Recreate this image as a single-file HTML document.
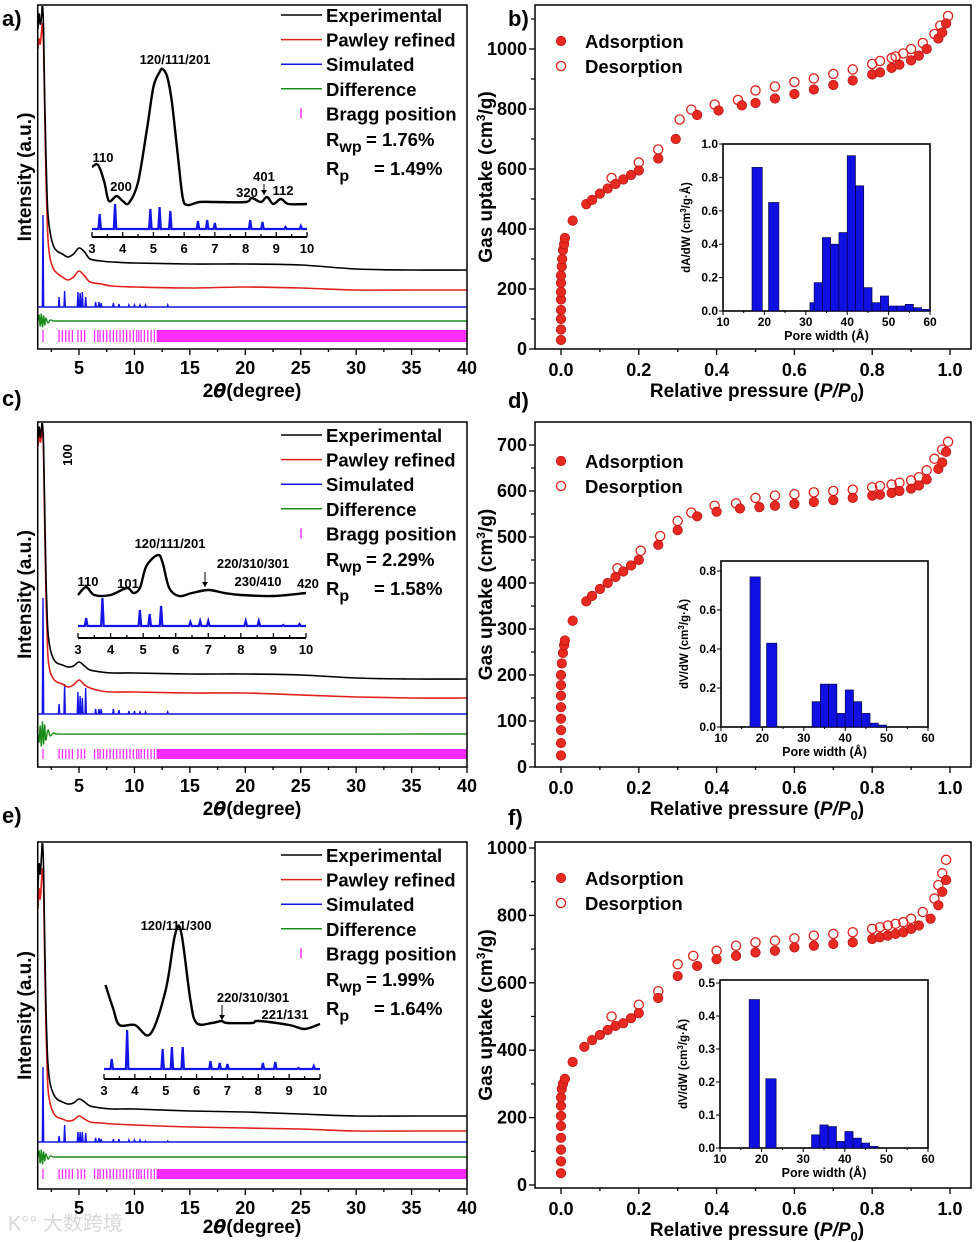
<!DOCTYPE html>
<html><head><meta charset="utf-8">
<style>
html,body{margin:0;padding:0;background:#fff;}
svg{display:block;font-family:"Liberation Sans","Noto Sans CJK SC",sans-serif;font-weight:bold;}
</style></head>
<body>
<svg id="fig" width="976" height="1242" viewBox="0 0 976 1242" xmlns="http://www.w3.org/2000/svg"><defs id="defs"></defs></svg>
<script>
// ---------- DATA ----------
const xrdX = [1.3,1.4,1.5,1.6,1.7,1.8,1.9,2.0,2.1,2.2,2.4,2.7,3,3.5,4,4.5,5,5.5,6,7,8,10,15,20,25,30,35,40];
const expA = [320,335,325,330,344,320,250,200,160,135,116,103,98,95,92,95,101,97,90,88,87,86,85,85,84,80,79,79];
const pawA = [300,310,305,315,325,300,240,180,140,110,90,80,76,72,69,72,78,73,67,65,63,62,61,62,61,59,59,59];
const expC = [330,340,330,338,344,320,260,200,160,135,118,108,104,102,100,101,105,101,97,95,94,94,93,93,92,89,88,88];
const pawC = [320,335,325,330,340,310,240,180,140,110,95,88,85,83,80,82,87,82,79,76,75,75,74,74,72,70,69,69];
const expE = [300,325,315,330,347,320,250,190,150,125,105,95,90,87,85,86,90,87,83,81,80,80,78,77,75,73,73,73];
const pawE = [280,300,290,305,320,300,230,170,130,100,85,76,72,70,68,69,73,70,67,66,65,64,62,61,60,58,58,58];
const simPos = [1.75,3.2,3.7,4.9,5.1,5.3,5.6,6.5,6.8,7.0,8.1,8.6,9.5,10,10.5,11,13];
const simA = [92,10,16,15,14,15,10,5,5,4,4,3,2,2,2,2,2];
const simC = [116,10,30,22,18,16,26,5,5,5,5,4,3,3,2,2,2];
const simE = [75,6,17,10,10,10,9,4,4,3,3,3,2,2,2,1,1];
const diffX = [1.3,1.4,1.5,1.6,1.7,1.8,1.9,2.0,2.2,2.4,2.7,3,40];
const diffA = [0,6,-5,7,-6,5,-4,3,-2,1,0,0,0];
const diffC = [0,-8,8,-12,12,-10,9,-6,4,-2,1,0,0];
const diffE = [0,6,-6,7,-7,5,-4,3,-2,1,0,0,0];
const braggPos = [1.75,3.2,3.5,3.8,4.1,4.4,4.9,5.2,5.5,6.4,6.7,6.9,7.2,7.5,7.8,8.1,8.4,8.7,9.0,9.3,9.6,9.9,10.2,10.4,10.6,10.9,11.2,11.5,11.8];
// insets
const insAX = [3.0,3.2,3.4,3.55,3.8,4.0,4.2,4.5,4.8,5.0,5.2,5.3,5.45,5.6,5.8,5.95,6.1,6.5,7,8,8.2,8.5,8.7,8.9,9.15,9.4,10];
const insAY = [70,72,55,36,41,36,34,55,110,150,165,168,160,135,80,40,32,35,35,35,39,35,40,33,38,33,33];
const insCX = [3.0,3.25,3.5,4.0,4.5,4.7,4.9,5.1,5.45,5.6,5.8,6.1,6.5,7.0,7.5,8,9,10];
const insCY = [43,51,43,43,50,45,50,72,83,75,50,42,45,48,45,43,42,45];
const insEX = [3.05,3.3,3.5,4.0,4.5,5.0,5.3,5.5,5.8,6.0,6.5,6.8,7.0,7.8,8,9,9.5,10];
const insEY = [94,70,54,54,45,89,144,147,79,56,56,58,56,56,58,54,50,55];
const insSimPos = [3.25,3.75,4.9,5.2,5.55,6.45,6.75,7.0,8.15,8.55,9.3,9.8];
const insSimA = [15,25,20,22,18,8,9,6,9,7,2,3];
const insSimC = [8,28,16,12,20,4,5,5,5,5,1,2];
const insSimE = [10,39,20,22,22,8,6,5,6,7,1,3];
// isotherms
const adsBX = [0,0,0,0,0,0,0,0,0.002,0.003,0.005,0.008,0.01,0.03,0.065,0.08,0.1,0.12,0.14,0.16,0.18,0.2,0.25,0.295,0.35,0.405,0.465,0.5,0.55,0.6,0.65,0.7,0.75,0.8,0.82,0.85,0.87,0.9,0.92,0.94,0.97,0.98,0.99];
const adsBY = [30,65,100,130,165,190,220,245,275,300,330,350,370,428,483,497,518,535,550,565,580,595,635,700,780,795,812,820,835,850,865,880,895,915,922,937,948,962,978,1000,1035,1055,1085];
const desBX = [0.13,0.2,0.25,0.305,0.335,0.395,0.455,0.5,0.55,0.6,0.65,0.7,0.75,0.8,0.82,0.85,0.86,0.88,0.9,0.93,0.96,0.975,0.995];
const desBY = [570,622,665,765,798,815,830,862,875,890,902,917,932,950,960,970,975,985,1000,1020,1050,1078,1110];
const adsDX = [0,0,0,0,0,0,0,0,0.002,0.005,0.008,0.01,0.03,0.065,0.08,0.1,0.12,0.14,0.16,0.18,0.2,0.25,0.3,0.35,0.4,0.46,0.51,0.55,0.6,0.65,0.7,0.75,0.8,0.82,0.85,0.87,0.9,0.92,0.94,0.97,0.98,0.99];
const adsDY = [25,52,80,105,130,155,178,200,225,248,265,275,318,360,372,387,400,413,425,438,450,483,515,545,555,562,565,568,572,576,580,585,590,592,596,600,605,612,625,648,662,685];
const desDX = [0.145,0.205,0.255,0.3,0.335,0.395,0.45,0.5,0.55,0.6,0.65,0.7,0.75,0.8,0.82,0.85,0.87,0.9,0.92,0.94,0.96,0.98,0.995];
const desDY = [432,470,502,535,553,568,573,585,590,593,597,600,603,608,611,614,618,623,630,645,670,690,707];
const adsFX = [0,0,0,0,0,0,0,0,0.002,0.005,0.01,0.03,0.06,0.08,0.1,0.12,0.14,0.16,0.18,0.2,0.25,0.3,0.35,0.4,0.45,0.5,0.55,0.6,0.65,0.7,0.75,0.8,0.82,0.84,0.86,0.88,0.9,0.92,0.95,0.97,0.98,0.99];
const adsFY = [35,70,105,140,175,205,235,260,285,300,315,365,410,430,445,460,472,480,495,510,555,620,650,670,680,690,695,705,710,715,720,730,735,740,745,750,760,770,790,830,870,905];
const desFX = [0.13,0.2,0.25,0.3,0.34,0.4,0.45,0.5,0.55,0.6,0.65,0.7,0.75,0.8,0.82,0.84,0.86,0.88,0.9,0.93,0.96,0.97,0.98,0.99];
const desFY = [500,535,575,655,680,695,710,720,725,732,740,745,750,760,765,770,775,780,790,810,850,890,925,965];
// pore histograms
const poreB = [17,21,31,32,34,36,38,40,42,44,46,48,50,52,54,56,58];
const histB = [0.86,0.65,0.05,0.17,0.44,0.40,0.47,0.93,0.75,0.14,0.05,0.09,0.03,0.03,0.04,0.02,0.01];
const poreD = [17,21,31,32,34,36,38,40,42,44,46,48];
const histD = [0.77,0.43,0.0,0.13,0.22,0.22,0.07,0.19,0.13,0.07,0.02,0.01];
const poreF = [17,21,31,32,34,36,38,40,42,44,46];
const histF = [0.45,0.21,0.0,0.04,0.07,0.065,0.02,0.05,0.03,0.015,0.005];

// ---------- HELPERS ----------
const NS='http://www.w3.org/2000/svg';
const svg=document.getElementById('fig');
const defs=document.getElementById('defs');
function add(parent,tag,attrs,name,text){
  const el=document.createElementNS(NS,tag);
  for(const k in attrs) el.setAttribute(k,attrs[k]);
  
  
  if(text!==undefined) el.textContent=text;
  parent.appendChild(el);
  return el;
}
function lin(d0,d1,r0,r1){return v=>r0+(v-d0)/(d1-d0)*(r1-r0);}
function smoothPath(xs,ys,sx,sy){
  const P=xs.map((x,i)=>[sx(x),sy(ys[i])]);
  let d='M'+P[0][0].toFixed(1)+','+P[0][1].toFixed(1);
  for(let i=0;i<P.length-1;i++){
    const p0=P[Math.max(0,i-1)],p1=P[i],p2=P[i+1],p3=P[Math.min(P.length-1,i+2)];
    let c1x=p1[0]+(p2[0]-p0[0])/6, c2x=p2[0]-(p3[0]-p1[0])/6;
    c1x=Math.min(Math.max(c1x,p1[0]),p2[0]); c2x=Math.min(Math.max(c2x,p1[0]),p2[0]);
    const c1y=p1[1]+(p2[1]-p0[1])/6, c2y=p2[1]-(p3[1]-p1[1])/6;
    d+='C'+c1x.toFixed(1)+','+c1y.toFixed(1)+' '+c2x.toFixed(1)+','+c2y.toFixed(1)+' '+p2[0].toFixed(1)+','+p2[1].toFixed(1);
  }
  return d;
}
function stickPath(pos,hs,base,x0,x1,sx,sy,w){
  let d='M'+sx(x0)+','+sy(base);
  pos.forEach((p,i)=>{d+='L'+sx(p-w)+','+sy(base)+'L'+sx(p)+','+sy(base+hs[i])+'L'+sx(p+w)+','+sy(base);});
  return d+'L'+sx(x1)+','+sy(base);
}
const COL={k:'#000',r:'#e0201b',b:'#1414e6',g:'#1a8c1a',m:'#ff2cff'};

// ---------- XRD PANEL ----------
function xrd(c){
  const g=add(svg,'g',{},'xrd-panel-'+c.id);
  const sx=lin(0,40,23.6,467);
  const H=c.bottom-c.top;
  const sy=lin(0,H,c.bottom,c.top);
  const cp=add(defs,'clipPath',{id:'clip-'+c.id},'clip-region');
  add(cp,'rect',{x:38.5,y:c.top+1,width:467-39,height:H-2},'clip-rect');
  add(g,'text',{x:2,y:c.labY,'font-size':22},'panel-label',c.id+')');
  const cg=add(g,'g',{'clip-path':'url(#clip-'+c.id+')'},'plot-area');
  braggPos.forEach(p=>{add(cg,'line',{x1:sx(p),x2:sx(p),y1:sy(c.bLo),y2:sy(c.bHi),stroke:COL.m,'stroke-width':1.3},'bragg-tick');});
  add(cg,'rect',{x:sx(12),y:sy(c.bHi),width:sx(40)-sx(12),height:sy(c.bLo)-sy(c.bHi),fill:COL.m},'bragg-band');
  add(cg,'path',{d:smoothPath(diffX,c.diff.map(v=>v+c.gBase),sx,sy),fill:'none',stroke:COL.g,'stroke-width':1.4},'difference-curve');
  add(cg,'path',{d:stickPath(simPos,c.sim,c.bBase,1.3,40,sx,sy,0.06),fill:'none',stroke:COL.b,'stroke-width':1.4},'simulated-curve');
  add(cg,'path',{d:smoothPath(xrdX,c.paw,sx,sy),fill:'none',stroke:COL.r,'stroke-width':1.6},'pawley-curve');
  add(cg,'path',{d:smoothPath(xrdX,c.exp,sx,sy),fill:'none',stroke:COL.k,'stroke-width':1.6},'experimental-curve');
  add(g,'rect',{x:37.7,y:c.top,width:467-37.7,height:H,fill:'none',stroke:'#000','stroke-width':1.5},'plot-frame');
  for(let v=2.5;v<=40;v+=2.5){
    const maj=v%5===0;
    add(g,'line',{x1:sx(v),x2:sx(v),y1:c.bottom,y2:c.bottom+(maj?6:3),stroke:'#000','stroke-width':1.3},'x-tick');
    if(maj) add(g,'text',{x:sx(v),y:c.bottom+c.lab,'font-size':18,'text-anchor':'middle'},'x-tick-label',String(v));
  }
  const xt=add(g,'text',{x:252,y:c.bottom+c.tit,'font-size':19,'text-anchor':'middle'},'x-axis-title','2');
  add(xt,'tspan',{'font-style':'italic','font-family':'"DejaVu Sans",sans-serif'},'theta-symbol','θ');
  add(xt,'tspan',{},'x-axis-unit','(degree)');
  add(g,'text',{transform:`translate(31,${(c.top+c.bottom)/2}) rotate(-90)`,'font-size':19,'text-anchor':'middle'},'y-axis-title','Intensity (a.u.)');
  const names=['Experimental','Pawley refined','Simulated','Difference'];
  const cols=[COL.k,COL.r,COL.b,COL.g];
  for(let i=0;i<4;i++){
    const y=c.leg+i*24.6;
    add(g,'line',{x1:281,x2:322,y1:y,y2:y,stroke:cols[i],'stroke-width':1.5},'legend-line');
    add(g,'text',{x:326,y:y+7,'font-size':18.5},'legend-entry',names[i]);
  }
  const yb=c.leg+4*24.6;
  add(g,'line',{x1:301,x2:301,y1:yb-5,y2:yb+5,stroke:COL.m,'stroke-width':1.5},'legend-bragg-marker');
  add(g,'text',{x:326,y:yb+7,'font-size':18.5},'legend-entry','Bragg position');
  const r1=add(g,'text',{x:326,y:c.leg+131,'font-size':18.5},'rwp-value','R');
  add(r1,'tspan',{dy:6,'font-size':16},'rwp-sub','wp');
  add(r1,'tspan',{dy:-6,x:366},'rwp-num','= '+c.rwp);
  const r2=add(g,'text',{x:326,y:c.leg+160,'font-size':18.5},'rp-value','R');
  add(r2,'tspan',{dy:6,'font-size':16},'rp-sub','p');
  add(r2,'tspan',{dy:-6,x:374},'rp-num','= '+c.rp);
  const I=c.ins;
  const ix=lin(3,10,I.x3,I.x10);
  const iy=v=>I.axis-v;
  add(g,'path',{d:stickPath(insSimPos,I.sim,I.base,3,10,ix,iy,0.04),fill:'none',stroke:COL.b,'stroke-width':2.2},'inset-simulated');
  add(g,'path',{d:smoothPath(I.xs,I.ys,ix,iy),fill:'none',stroke:'#000','stroke-width':2.4},'inset-experimental');
  add(g,'line',{x1:ix(3),x2:ix(10),y1:I.axis,y2:I.axis,stroke:'#000','stroke-width':2},'inset-x-axis');
  for(let v=3;v<=10;v+=0.5){
    add(g,'line',{x1:ix(v),x2:ix(v),y1:I.axis,y2:I.axis-(v%1===0?5:3),stroke:'#000','stroke-width':1.3},'inset-tick');
    if(v%1===0) add(g,'text',{x:ix(v),y:I.axis+16,'font-size':13,'text-anchor':'middle'},'inset-tick-label',String(v));
  }
  I.labels.forEach(L=>{
    const t=add(g,'text',{x:L[1],y:L[2],'font-size':13,'text-anchor':'middle'},'peak-label',L[0]);
    if(L[3]) t.setAttribute('transform',`rotate(-90 ${L[1]} ${L[2]})`);
  });
  I.arrows.forEach(A=>{
    add(g,'line',{x1:A[0],x2:A[0],y1:A[1],y2:A[2],stroke:'#000','stroke-width':1},'peak-arrow');
    add(g,'path',{d:`M${A[0]-3},${A[2]-5}L${A[0]},${A[2]}L${A[0]+3},${A[2]-5}Z`,fill:'#000'},'peak-arrowhead');
  });
}

xrd({id:'a',top:5,bottom:349,labY:26,exp:expA,paw:pawA,sim:simA,bBase:42,diff:diffA,gBase:28,bLo:7,bHi:19,
  lab:25,tit:48,leg:15,rwp:'1.76%',rp:'1.49%',
  ins:{x3:92,x10:307,axis:237,base:8,xs:insAX,ys:insAY,sim:insSimA,
    labels:[['110',103,162],['200',121,191],['120/111/201',175,64],['320',247,197],['401',264,181],['112',283,195]],
    arrows:[[264,184,195]]}});
xrd({id:'c',top:422,bottom:767,labY:406,exp:expC,paw:pawC,sim:simC,bBase:53,diff:diffC,gBase:33,bLo:8,bHi:18,
  lab:25,tit:48,leg:435,rwp:'2.29%',rp:'1.58%',
  ins:{x3:78,x10:306,axis:638,base:12,xs:insCX,ys:insCY,sim:insSimC,
    labels:[['100',72,455,true],['110',88,586],['101',128,588],['120/111/201',170,548],['220/310/301',253,568],['230/410',258,586],['420',308,588]],
    arrows:[[205,572,587]]}});
xrd({id:'e',top:842,bottom:1189,labY:823,exp:expE,paw:pawE,sim:simE,bBase:47,diff:diffE,gBase:32,bLo:10,bHi:20,
  lab:25,tit:44,leg:855,rwp:'1.99%',rp:'1.64%',
  ins:{x3:104,x10:320,axis:1079,base:10,xs:insEX,ys:insEY,sim:insSimE,
    labels:[['120/111/300',176,930],['220/310/301',253,1002],['221/131',285,1019]],
    arrows:[[222,1005,1020]]}});

// ---------- ISOTHERM PANEL ----------
function iso(c){
  const g=add(svg,'g',{},'isotherm-panel-'+c.id);
  const sx=lin(0,1,561,950);
  const sy=lin(0,c.yRef,c.y0,c.yRefPx);
  add(g,'text',{x:508,y:c.labY,'font-size':22},'panel-label',c.id+')');
  const I=c.ins;
  const hx=lin(10,60,I.x10,I.x60);
  const hy=lin(0,I.ymax,I.y0,I.ymaxPx);
  add(g,'rect',{x:I.x10,y:I.top,width:I.x60-I.x10,height:I.y0-I.top,fill:'#fff',stroke:'#000','stroke-width':1.6},'inset-frame');
  c.pore.forEach((p,i)=>{
    const w=(i<2)?2.5:2;
    add(g,'rect',{x:hx(p),y:hy(c.hist[i]),width:hx(p+w)-hx(p),height:hy(0)-hy(c.hist[i]),fill:'#1010e0',stroke:'#000030','stroke-width':0.6},'pore-bar');
  });
  for(let v=10;v<=60;v+=5){
    add(g,'line',{x1:hx(v),x2:hx(v),y1:I.y0,y2:I.y0+(v%10===0?4:2),stroke:'#000','stroke-width':1},'inset-x-tick');
    if(v%10===0) add(g,'text',{x:hx(v),y:I.y0+15,'font-size':12,'text-anchor':'middle'},'inset-x-tick-label',String(v));
  }
  I.ticks.forEach(v=>{
    add(g,'line',{x1:I.x10,x2:I.x10-4,y1:hy(v),y2:hy(v),stroke:'#000','stroke-width':1},'inset-y-tick');
    add(g,'text',{x:I.x10-5,y:hy(v)+4,'font-size':12,'text-anchor':'end'},'inset-y-tick-label',v.toFixed(1));
  });
  add(g,'text',{x:(I.x10+I.x60)/2,y:I.y0+29,'font-size':12.5,'text-anchor':'middle'},'inset-x-title','Pore width (Å)');
  const yl=add(g,'text',{transform:`translate(${I.x10-33},${(I.top+I.y0)/2}) rotate(-90)`,'font-size':11.5,'text-anchor':'middle'},'inset-y-title',I.ylab+' (cm');
  add(yl,'tspan',{dy:-4,'font-size':8},'sup','3');
  add(yl,'tspan',{dy:4},'unit','/g·Å)');
  c.dx.forEach((x,i)=>{add(g,'circle',{cx:sx(x),cy:sy(c.dy[i]),r:4.6,fill:'none',stroke:'#e0201b','stroke-width':1.3},'desorption-point');});
  c.ax.forEach((x,i)=>{add(g,'circle',{cx:sx(x),cy:sy(c.ay[i]),r:4.8,fill:'#e62a22',stroke:'#b01010','stroke-width':0.6},'adsorption-point');});
  add(g,'rect',{x:535,y:c.top,width:436,height:c.bottom-c.top,fill:'none',stroke:'#000','stroke-width':1.5},'plot-frame');
  for(let v=0;v<=1.0001;v+=0.1){
    const maj=Math.round(v*10)%2===0;
    add(g,'line',{x1:sx(v),x2:sx(v),y1:c.bottom,y2:c.bottom+(maj?6:3),stroke:'#000','stroke-width':1.3},'x-tick');
    if(maj) add(g,'text',{x:sx(v),y:c.bottom+27,'font-size':18,'text-anchor':'middle'},'x-tick-label',v.toFixed(1));
  }
  c.yticks.forEach(v=>{
    add(g,'line',{x1:535,x2:529,y1:sy(v),y2:sy(v),stroke:'#000','stroke-width':1.3},'y-tick');
    add(g,'text',{x:527,y:sy(v)+6,'font-size':18,'text-anchor':'end'},'y-tick-label',String(v));
    const m=v+c.ystep/2;
    if(sy(m)>c.top) add(g,'line',{x1:535,x2:531,y1:sy(m),y2:sy(m),stroke:'#000','stroke-width':1.2},'y-minor-tick');
  });
  const xt=add(g,'text',{x:757,y:c.bottom+48,'font-size':19,'text-anchor':'middle'},'x-axis-title','Relative pressure (');
  add(xt,'tspan',{'font-style':'italic'},'p','P/P');
  add(xt,'tspan',{dy:5,'font-size':13},'sub0','0');
  add(xt,'tspan',{dy:-5},'paren',')');
  const yt=add(g,'text',{transform:`translate(492,${(c.top+c.bottom)/2}) rotate(-90)`,'font-size':19,'text-anchor':'middle'},'y-axis-title','Gas uptake (cm');
  add(yt,'tspan',{dy:-7,'font-size':12},'sup3','3');
  add(yt,'tspan',{dy:7},'unit','/g)');
  add(g,'circle',{cx:561,cy:c.leg,r:4.8,fill:'#e62a22',stroke:'#b01010','stroke-width':0.6},'legend-adsorption-marker');
  add(g,'text',{x:585,y:c.leg+7,'font-size':18.5},'legend-entry','Adsorption');
  add(g,'circle',{cx:561,cy:c.leg+25,r:4.6,fill:'none',stroke:'#e0201b','stroke-width':1.3},'legend-desorption-marker');
  add(g,'text',{x:585,y:c.leg+32,'font-size':18.5},'legend-entry','Desorption');
}
iso({id:'b',top:5,bottom:349,labY:26,y0:349,yRef:1000,yRefPx:49,yticks:[0,200,400,600,800,1000],ystep:200,ax:adsBX,ay:adsBY,dx:desBX,dy:desBY,leg:41,
  pore:poreB,hist:histB,ins:{x10:723,x60:930,y0:311,ymax:1.0,ymaxPx:144,top:144,ticks:[0,0.2,0.4,0.6,0.8,1.0],ylab:'dA/dW'}});
iso({id:'d',top:422,bottom:767,labY:408,y0:767,yRef:700,yRefPx:445,yticks:[0,100,200,300,400,500,600,700],ystep:100,ax:adsDX,ay:adsDY,dx:desDX,dy:desDY,leg:461,
  pore:poreD,hist:histD,ins:{x10:721,x60:928,y0:727,ymax:0.8,ymaxPx:571,top:561,ticks:[0,0.2,0.4,0.6,0.8],ylab:'dV/dW'}});
iso({id:'f',top:842,bottom:1188,labY:825,y0:1185,yRef:1000,yRefPx:848,yticks:[0,200,400,600,800,1000],ystep:200,ax:adsFX,ay:adsFY,dx:desFX,dy:desFY,leg:878,
  pore:poreF,hist:histF,ins:{x10:720,x60:928,y0:1148,ymax:0.5,ymaxPx:983,top:980,ticks:[0,0.1,0.2,0.3,0.4,0.5],ylab:'dV/dW'}});

const wm=add(svg,'text',{x:8,y:1230,'font-size':20,fill:'#d8d8d8','font-weight':'normal'},'watermark','K°° 大数跨境');
</script>
</body></html>
